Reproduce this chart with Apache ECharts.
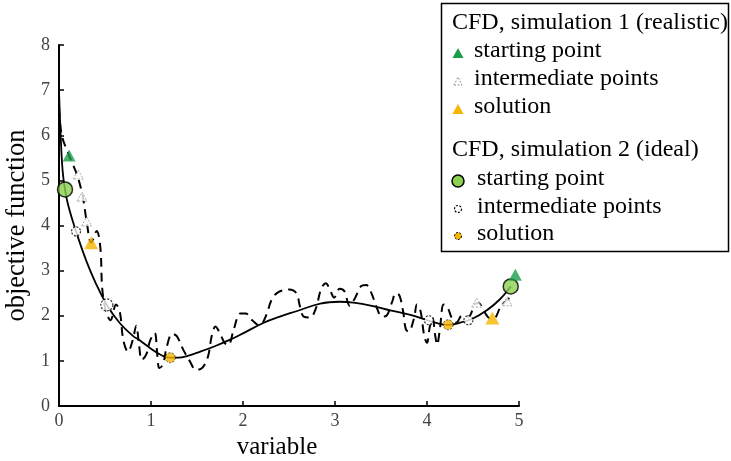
<!DOCTYPE html>
<html><head><meta charset="utf-8">
<script src="https://cdn.jsdelivr.net/npm/echarts@6/dist/echarts.min.js"></script>
<style>html,body{margin:0;padding:0;background:#fff}#c{width:731px;height:461px}</style>
</head><body><div id="c"></div>
<script>
const xTicks = [0,1,2,3,4,5];
const yTicks = [0,1,2,3,4,5,6,7,8];
// Simulation 2 (ideal) smooth objective curve
const idealCurve = [[0,7.0],[0.02,5.9],[0.04,5.2],[0.065,4.8],[0.1,4.45],[0.185,3.87],[0.3,3.2],[0.4,2.72],[0.52,2.24],[0.66,1.84],[0.8,1.56],[0.88,1.45],[1.0,1.27],[1.1,1.14],[1.2,1.07],[1.3,1.07],[1.4,1.11],[1.53,1.2],[1.7,1.33],[1.86,1.47],[2.0,1.61],[2.22,1.84],[2.4,1.98],[2.58,2.1],[2.84,2.27],[3.05,2.31],[3.2,2.29],[3.4,2.22],[3.6,2.12],[3.82,2.02],[4.0,1.9],[4.1,1.84],[4.23,1.8],[4.35,1.84],[4.5,1.94],[4.65,2.12],[4.79,2.36],[4.91,2.65]];
// Simulation 1 (realistic) noisy objective curve
const realCurve = [[0,6.6],[0.03,6.0],[0.11,5.55],[0.2,5.1],[0.26,4.62],[0.3,4.1],[0.35,3.62],[0.41,3.88],[0.45,3.5],[0.47,2.6],[0.51,2.1],[0.56,1.9],[0.62,2.25],[0.66,2.1],[0.7,1.45],[0.75,1.2],[0.8,1.45],[0.84,1.78],[0.87,1.35],[0.9,1.02],[0.95,1.15],[0.99,1.45],[1.04,1.62],[1.07,1.1],[1.09,0.84],[1.13,0.92],[1.17,1.3],[1.23,1.6],[1.28,1.55],[1.35,1.25],[1.42,1.0],[1.49,0.8],[1.56,0.85],[1.62,1.1],[1.66,1.55],[1.7,1.76],[1.74,1.65],[1.8,1.4],[1.84,1.35],[1.9,1.7],[1.97,2.05],[2.03,2.05],[2.1,1.9],[2.18,1.78],[2.25,2.0],[2.31,2.35],[2.38,2.52],[2.5,2.58],[2.58,2.5],[2.62,2.2],[2.66,1.98],[2.73,1.96],[2.79,2.15],[2.85,2.6],[2.9,2.72],[2.95,2.55],[2.99,2.4],[3.05,2.6],[3.1,2.55],[3.16,2.22],[3.22,2.4],[3.28,2.65],[3.34,2.68],[3.4,2.48],[3.45,2.2],[3.51,1.98],[3.56,2.0],[3.62,2.3],[3.66,2.5],[3.7,2.45],[3.74,2.1],[3.77,1.7],[3.8,1.65],[3.86,1.95],[3.89,2.25],[3.93,2.1],[3.97,1.55],[4.0,1.4],[4.03,1.75],[4.06,1.95],[4.09,1.55],[4.11,1.36],[4.14,1.7],[4.18,2.25],[4.22,2.2],[4.27,1.95],[4.32,1.85],[4.38,2.0],[4.45,1.98],[4.52,2.25],[4.56,2.28],[4.62,2.1],[4.68,1.95],[4.73,1.95],[4.8,2.2],[4.87,2.35],[4.93,2.45]];
const sim1Start = [[0.11,5.55],[4.96,2.91]];
const sim1Inter = [[0.21,5.13],[0.25,4.64],[0.30,4.09],[4.54,2.29],[4.87,2.32]];
const sim1Sol = [[0.35,3.62],[4.71,1.95]];
const sim2Start = [[0.065,4.8],[4.91,2.65]];
const sim2Inter = [[0.185,3.87],[0.52,2.24],[4.02,1.9],[4.45,1.9]];
const sim2Sol = [[1.21,1.07],[4.23,1.8]];
const legendHead = ['CFD, simulation 1 (realistic)','CFD, simulation 2 (ideal)'];
const legendItems = ['starting point','intermediate points','solution'];

const GREEN_T = '#1a9e4a', GREEN_C = '#8cd050', ORANGE = '#f7b500';
const FONT = 'Liberation Serif';
const tri = 'path://M0,10L5,0L10,10Z';

const chart = echarts.init(document.getElementById('c'));
const lgX = 452, txt = {fontFamily: FONT, fontSize: 24, fill: '#000'};
const graphics = [
  {type:'rect', shape:{x:441.5,y:3.5,width:287,height:248}, style:{fill:'#fff',stroke:'#000',lineWidth:1.5}, z:10},
  {type:'text', left:lgX, top:11, style:Object.assign({text:legendHead[0]},txt), z:11},
  {type:'polygon', shape:{points:[[452.5,58],[463.5,58],[458,48]]}, style:{fill:GREEN_T}, z:11},
  {type:'text', left:474, top:39, style:Object.assign({text:legendItems[0]},txt), z:11},
  {type:'polygon', shape:{points:[[454,85],[462,85],[458,77]]}, style:{fill:'#fff',stroke:'#777',lineWidth:0.8,lineDash:[2,1.5]}, z:11},
  {type:'text', left:474, top:67, style:Object.assign({text:legendItems[1]},txt), z:11},
  {type:'polygon', shape:{points:[[452.5,114],[463.5,114],[458,104]]}, style:{fill:ORANGE}, z:11},
  {type:'text', left:474, top:95, style:Object.assign({text:legendItems[2]},txt), z:11},
  {type:'text', left:lgX, top:138, style:Object.assign({text:legendHead[1]},txt), z:11},
  {type:'circle', shape:{cx:458,cy:181,r:6}, style:{fill:GREEN_C,stroke:'#000',lineWidth:1.5}, z:11},
  {type:'text', left:477, top:167, style:Object.assign({text:legendItems[0]},txt), z:11},
  {type:'circle', shape:{cx:458,cy:209,r:3.5}, style:{fill:'#fff',stroke:'#000',lineWidth:1.2,lineDash:[2,1.5]}, z:11},
  {type:'text', left:477, top:195, style:Object.assign({text:legendItems[1]},txt), z:11},
  {type:'circle', shape:{cx:458,cy:236,r:3.5}, style:{fill:ORANGE,stroke:'#000',lineWidth:1,lineDash:[2,1.5]}, z:11},
  {type:'text', left:477, top:222, style:Object.assign({text:legendItems[2]},txt), z:11}
];

const axisCommon = {
  axisLine:{show:true, onZero:false, lineStyle:{color:'#000',width:2}},
  axisTick:{show:true, inside:true, length:5, lineStyle:{color:'#000',width:1.5}},
  splitLine:{show:false},
  axisLabel:{color:'#444', fontFamily:FONT, fontSize:18},
  nameLocation:'middle'
};

chart.setOption({
  animation:false,
  backgroundColor:'#fff',
  grid:{left:59, right:212, top:45, bottom:55, containLabel:false, outerBoundsMode:'none'},
  xAxis: Object.assign({type:'value', min:xTicks[0], max:xTicks[xTicks.length-1], interval:1, name:'variable', nameGap:26}, axisCommon, {
    axisLabel:Object.assign({}, axisCommon.axisLabel, {margin:6}),
    nameTextStyle:{color:'#000', fontFamily:FONT, fontSize:25, padding:[0,24,0,0]}}),
  yAxis: Object.assign({type:'value', min:yTicks[0], max:yTicks[yTicks.length-1], interval:1, name:'objective function', nameGap:24, nameRotate:90}, axisCommon, {
    axisLabel:Object.assign({}, axisCommon.axisLabel, {margin:9}),
    nameTextStyle:{color:'#000', fontFamily:FONT, fontSize:26.5}}),
  graphic: graphics,
  series:[
    {type:'line', data:realCurve, smooth:0.35, showSymbol:false, lineStyle:{color:'#000',width:2,type:[9,6]}, z:2},
    {type:'line', data:idealCurve, smooth:0.4, showSymbol:false, lineStyle:{color:'#000',width:1.8}, z:3},
    {type:'scatter', data:sim2Start, symbol:'circle', symbolSize:15, itemStyle:{color:GREEN_C,borderColor:'#000',borderWidth:1.5}, z:5},
    {type:'scatter', data:sim2Inter, symbol:'circle', symbolSize:(v,p)=>p.dataIndex===1?12:9, itemStyle:{color:'#fff',borderColor:'#000',borderWidth:1.2,borderType:[2,1.5]}, z:5},
    {type:'scatter', data:sim2Sol, symbol:'circle', symbolSize:10, itemStyle:{color:ORANGE,borderColor:'#000',borderWidth:0.8,borderType:[2,1.5]}, z:5},
    {type:'scatter', data:sim1Start, symbol:tri, symbolSize:[13,12], itemStyle:{color:GREEN_T}, z:6},
    {type:'scatter', data:sim1Inter, symbol:tri, symbolSize:[10,9], itemStyle:{color:'#fff',borderColor:'#777',borderWidth:0.8,borderType:[2,1.5]}, z:6},
    {type:'scatter', data:sim1Sol, symbol:tri, symbolSize:[14,13], itemStyle:{color:ORANGE}, z:6}
  ]
});
</script></body></html>
